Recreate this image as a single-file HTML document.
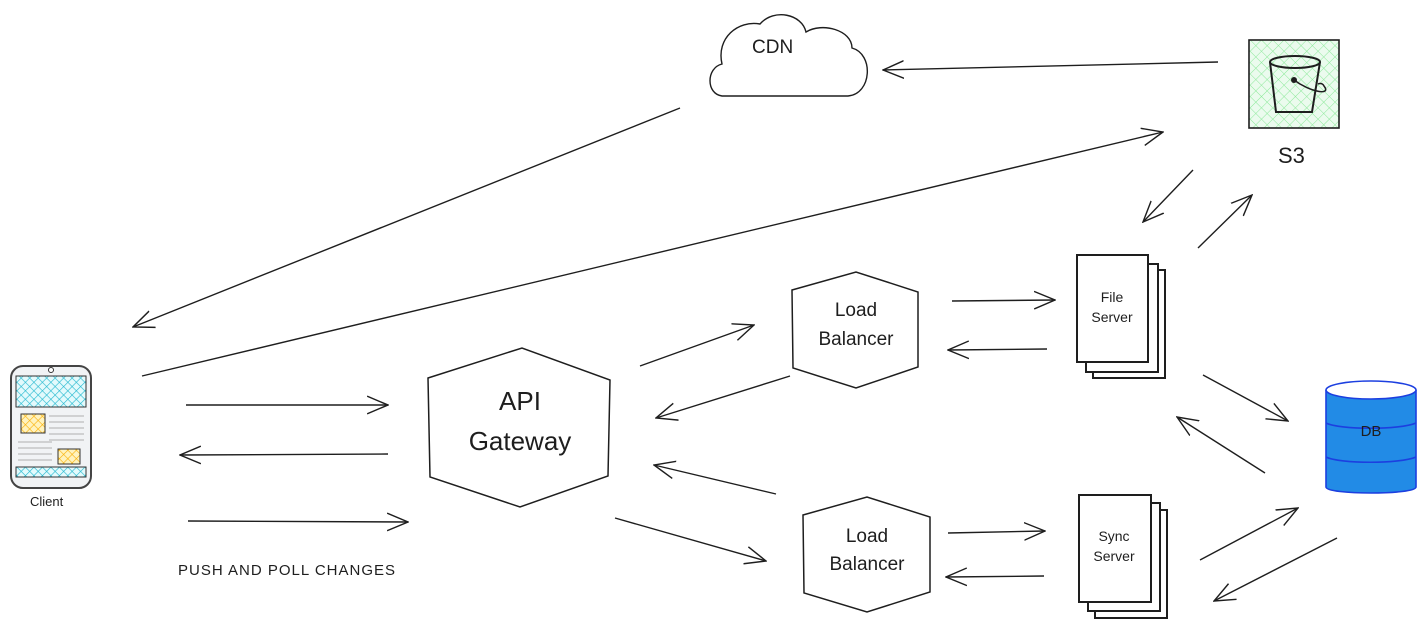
<!DOCTYPE html>
<html><head><meta charset="utf-8"><style>
html,body{margin:0;padding:0;background:#fff;width:1427px;height:627px;overflow:hidden}
text{font-family:"Comic Sans MS","Liberation Sans",sans-serif;fill:#1e1e1e}
</style></head><body>
<svg width="1427" height="627" viewBox="0 0 1427 627" xmlns="http://www.w3.org/2000/svg">
<defs>
<marker id="a" viewBox="0 0 20 20" refX="19" refY="10" markerWidth="22" markerHeight="22" markerUnits="userSpaceOnUse" orient="auto">
<path d="M0,2 L19,10 L0,18" fill="none" stroke="#1e1e1e" stroke-width="1.3"/>
</marker>
<pattern id="g" width="8" height="8" patternUnits="userSpaceOnUse" patternTransform="rotate(45)">
<rect width="8" height="8" fill="#ebfbee"/><path d="M0,0V8M0,0H8" stroke="#8ce99a" stroke-width="1"/></pattern>
<pattern id="c" width="6" height="6" patternUnits="userSpaceOnUse" patternTransform="rotate(45)">
<rect width="6" height="6" fill="#e3fafc"/><path d="M0,0V6M0,0H6" stroke="#22b8cf" stroke-width="1.2"/></pattern>
<pattern id="y" width="6" height="6" patternUnits="userSpaceOnUse" patternTransform="rotate(45)">
<rect width="6" height="6" fill="#fff3bf"/><path d="M0,0V6M0,0H6" stroke="#fab005" stroke-width="1.2"/></pattern>
</defs>
<g fill="none" stroke="#1e1e1e" stroke-width="1.4" marker-end="url(#a)">
<line x1="1218" y1="62" x2="883" y2="70"/>
<line x1="680" y1="108" x2="133" y2="327"/>
<line x1="142" y1="376" x2="1163" y2="132"/>
<line x1="1193" y1="170" x2="1143" y2="222"/>
<line x1="1198" y1="248" x2="1252" y2="195"/>
<line x1="186" y1="405" x2="388" y2="405"/>
<line x1="388" y1="454" x2="180" y2="455"/>
<line x1="188" y1="521" x2="408" y2="522"/>
<line x1="640" y1="366" x2="754" y2="325"/>
<line x1="790" y1="376" x2="656" y2="418"/>
<line x1="952" y1="301" x2="1055" y2="300"/>
<line x1="1047" y1="349" x2="948" y2="350"/>
<line x1="776" y1="494" x2="654" y2="465"/>
<line x1="615" y1="518" x2="766" y2="561"/>
<line x1="948" y1="533" x2="1045" y2="531"/>
<line x1="1044" y1="576" x2="946" y2="577"/>
<line x1="1203" y1="375" x2="1288" y2="421"/>
<line x1="1265" y1="473" x2="1177" y2="417"/>
<line x1="1200" y1="560" x2="1298" y2="508"/>
<line x1="1337" y1="538" x2="1214" y2="601"/>
</g>
<!-- CDN cloud -->
<path d="M722,96 C706,94 706,68 722,64 C716,38 738,20 760,24 C774,8 802,14 806,32 C822,22 852,30 852,48 C874,54 872,94 848,96 Z" fill="#fff" stroke="#1e1e1e" stroke-width="1.4"/>
<text x="752" y="53" font-size="19">CDN</text>
<!-- S3 -->
<rect x="1249" y="40" width="90" height="88" fill="url(#g)" stroke="#1e1e1e" stroke-width="1.6"/>
<path d="M1270,62 L1276,112 L1312,112 L1320,62" fill="none" stroke="#1e1e1e" stroke-width="2"/>
<ellipse cx="1295" cy="62" rx="25" ry="6" fill="none" stroke="#1e1e1e" stroke-width="2"/>
<circle cx="1294" cy="80" r="3" fill="#1e1e1e"/>
<path d="M1294,80 C1310,92 1332,96 1324,86 C1322,82 1318,84 1318,84" fill="none" stroke="#1e1e1e" stroke-width="1.5"/>
<text x="1278" y="163" font-size="22">S3</text>
<!-- Client -->
<rect x="11" y="366" width="80" height="122" rx="12" fill="#f1f3f5" stroke="#444" stroke-width="2"/>
<rect x="16" y="376" width="70" height="31" fill="url(#c)" stroke="#333"/>
<rect x="16" y="467" width="70" height="10" fill="url(#c)" stroke="#333"/>
<rect x="21" y="414" width="24" height="19" fill="url(#y)" stroke="#333"/>
<rect x="58" y="449" width="22" height="15" fill="url(#y)" stroke="#333"/>
<circle cx="51" cy="370" r="2.5" fill="#fff" stroke="#333"/>
<g stroke="#999" stroke-width="0.8">
<line x1="49" y1="416" x2="84" y2="416"/><line x1="49" y1="422" x2="84" y2="422"/><line x1="49" y1="428" x2="84" y2="428"/><line x1="49" y1="434" x2="84" y2="434"/><line x1="49" y1="440" x2="84" y2="440"/>
<line x1="18" y1="442" x2="52" y2="442"/><line x1="18" y1="448" x2="52" y2="448"/><line x1="18" y1="454" x2="52" y2="454"/><line x1="18" y1="460" x2="52" y2="460"/>
</g>
<text x="30" y="506" font-size="13">Client</text>
<!-- API Gateway -->
<polygon points="428,378 522,348 610,380 608,476 520,507 430,477" fill="#fff" stroke="#1e1e1e" stroke-width="1.5"/>
<text x="520" y="410" font-size="26" text-anchor="middle">API</text>
<text x="520" y="450" font-size="26" text-anchor="middle">Gateway</text>
<!-- LB1 -->
<polygon points="792,290 856,272 918,292 918,367 856,388 793,368" fill="#fff" stroke="#1e1e1e" stroke-width="1.5"/>
<text x="856" y="316" font-size="19" text-anchor="middle">Load</text>
<text x="856" y="345" font-size="19" text-anchor="middle">Balancer</text>
<!-- LB2 -->
<polygon points="803,515 867,497 930,517 930,592 867,612 804,593" fill="#fff" stroke="#1e1e1e" stroke-width="1.5"/>
<text x="867" y="542" font-size="19" text-anchor="middle">Load</text>
<text x="867" y="570" font-size="19" text-anchor="middle">Balancer</text>
<!-- File server -->
<g fill="#fff" stroke="#1e1e1e" stroke-width="2">
<rect x="1093" y="270" width="72" height="108"/>
<rect x="1086" y="264" width="72" height="108"/>
<rect x="1077" y="255" width="71" height="107"/>
</g>
<text x="1112" y="302" font-size="14" text-anchor="middle">File</text>
<text x="1112" y="322" font-size="14" text-anchor="middle">Server</text>
<!-- Sync server -->
<g fill="#fff" stroke="#1e1e1e" stroke-width="2">
<rect x="1095" y="510" width="72" height="108"/>
<rect x="1088" y="503" width="72" height="108"/>
<rect x="1079" y="495" width="72" height="107"/>
</g>
<text x="1114" y="541" font-size="14" text-anchor="middle">Sync</text>
<text x="1114" y="561" font-size="14" text-anchor="middle">Server</text>
<!-- DB -->
<path d="M1326,390 L1326,487 C1326,495 1416,495 1416,487 L1416,390" fill="#228be6" stroke="#1c3fe0" stroke-width="1.6"/>
<ellipse cx="1371" cy="390" rx="45" ry="9" fill="#fff" stroke="#1c3fe0" stroke-width="1.6"/>
<path d="M1326,423 C1340,430 1400,430 1416,423 M1326,457 C1340,464 1400,464 1416,457" fill="none" stroke="#1c3fe0" stroke-width="1.6"/>
<text x="1371" y="436" font-size="15" text-anchor="middle">DB</text>
<text x="178" y="575" font-size="15" letter-spacing="1">PUSH AND POLL CHANGES</text>
</svg>
</body></html>
